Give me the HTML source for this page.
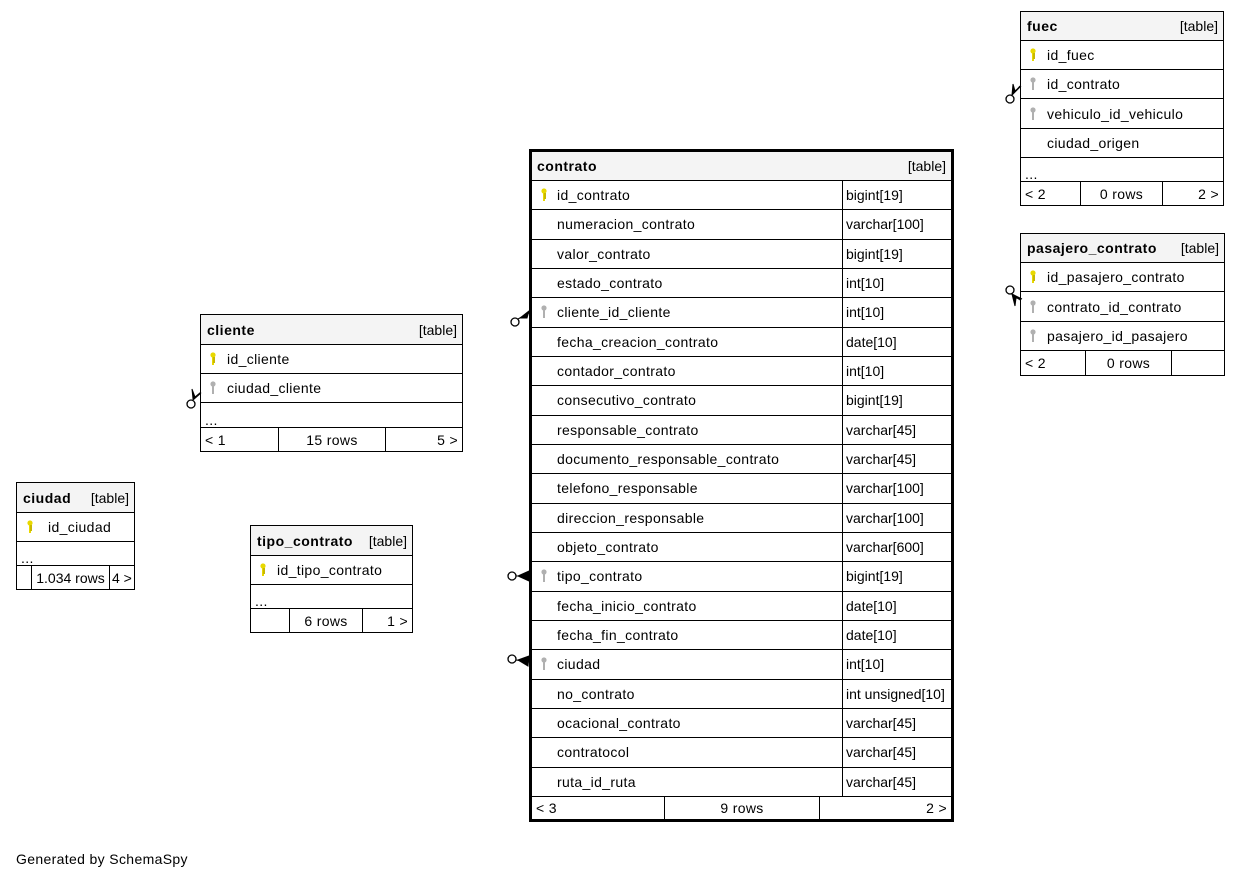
<!DOCTYPE html>
<html><head><meta charset="utf-8"><style>
*{box-sizing:border-box;margin:0;padding:0}
body{width:1240px;height:878px;background:#fff;position:relative;overflow:hidden;font:14px "Liberation Sans",sans-serif;letter-spacing:0.35px;color:#000}
.t{position:absolute;border:1px solid #000;background:#fff}
.t>div{border-top:1px solid #000;position:relative;white-space:nowrap}
.t>div:first-child{border-top:none}
.h{background:#f4f4f4;display:flex;justify-content:space-between;align-items:center;padding:0 5px 0 6px}
.h b{font-weight:bold;letter-spacing:0.5px}
.h span{letter-spacing:0}
.r{display:flex;align-items:center}
.r .n{flex:none;padding-left:25px;position:relative;height:100%;display:flex;align-items:center}
.r .ty{flex:1;border-left:1px solid #000;height:100%;display:flex;align-items:center;padding-left:3px;letter-spacing:0}
.k{position:absolute;left:8px;top:50%;margin-top:-8px;width:8px;height:16px}
.d{padding-left:4px;line-height:14px;display:flex;align-items:flex-end}
.f{display:flex}
.f span{height:100%;display:flex;align-items:center;border-left:1px solid #000}
.f span:first-child{border-left:none}
</style></head><body>
<svg width="0" height="0" style="position:absolute"><defs>
<g id="pk"><circle cx="4" cy="4" r="2.6" fill="#e8d800"/><rect x="3" y="5" width="2" height="9" fill="#e8d800"/><rect x="4" y="6" width="2" height="6" fill="#c8b800"/></g>
<g id="fk"><circle cx="4" cy="4" r="2.6" fill="#b0b0b0"/><rect x="3" y="5" width="2" height="9" fill="#b0b0b0"/></g>
</defs></svg>

<!-- contrato -->
<div class="t" style="left:529px;top:149px;width:425px;height:673px;border-width:3px">
<div class="h" style="height:28px;padding-left:5px"><b>contrato</b><span>[table]</span></div>
<div class="r" style="height:29.33px"><div class="n" style="width:310px"><svg class="k" viewBox="0 0 8 16" style="left:8px"><use href="#pk"/></svg>id_contrato</div><div class="ty">bigint[19]</div></div>
<div class="r" style="height:29.33px"><div class="n" style="width:310px">numeracion_contrato</div><div class="ty">varchar[100]</div></div>
<div class="r" style="height:29.33px"><div class="n" style="width:310px">valor_contrato</div><div class="ty">bigint[19]</div></div>
<div class="r" style="height:29.33px"><div class="n" style="width:310px">estado_contrato</div><div class="ty">int[10]</div></div>
<div class="r" style="height:29.33px"><div class="n" style="width:310px"><svg class="k" viewBox="0 0 8 16" style="left:8px"><use href="#fk"/></svg>cliente_id_cliente</div><div class="ty">int[10]</div></div>
<div class="r" style="height:29.33px"><div class="n" style="width:310px">fecha_creacion_contrato</div><div class="ty">date[10]</div></div>
<div class="r" style="height:29.33px"><div class="n" style="width:310px">contador_contrato</div><div class="ty">int[10]</div></div>
<div class="r" style="height:29.33px"><div class="n" style="width:310px">consecutivo_contrato</div><div class="ty">bigint[19]</div></div>
<div class="r" style="height:29.33px"><div class="n" style="width:310px">responsable_contrato</div><div class="ty">varchar[45]</div></div>
<div class="r" style="height:29.33px"><div class="n" style="width:310px">documento_responsable_contrato</div><div class="ty">varchar[45]</div></div>
<div class="r" style="height:29.33px"><div class="n" style="width:310px">telefono_responsable</div><div class="ty">varchar[100]</div></div>
<div class="r" style="height:29.33px"><div class="n" style="width:310px">direccion_responsable</div><div class="ty">varchar[100]</div></div>
<div class="r" style="height:29.33px"><div class="n" style="width:310px">objeto_contrato</div><div class="ty">varchar[600]</div></div>
<div class="r" style="height:29.33px"><div class="n" style="width:310px"><svg class="k" viewBox="0 0 8 16" style="left:8px"><use href="#fk"/></svg>tipo_contrato</div><div class="ty">bigint[19]</div></div>
<div class="r" style="height:29.33px"><div class="n" style="width:310px">fecha_inicio_contrato</div><div class="ty">date[10]</div></div>
<div class="r" style="height:29.33px"><div class="n" style="width:310px">fecha_fin_contrato</div><div class="ty">date[10]</div></div>
<div class="r" style="height:29.33px"><div class="n" style="width:310px"><svg class="k" viewBox="0 0 8 16" style="left:8px"><use href="#fk"/></svg>ciudad</div><div class="ty">int[10]</div></div>
<div class="r" style="height:29.33px"><div class="n" style="width:310px">no_contrato</div><div class="ty">int unsigned[10]</div></div>
<div class="r" style="height:29.33px"><div class="n" style="width:310px">ocacional_contrato</div><div class="ty">varchar[45]</div></div>
<div class="r" style="height:29.33px"><div class="n" style="width:310px">contratocol</div><div class="ty">varchar[45]</div></div>
<div class="r" style="height:29.33px"><div class="n" style="width:310px">ruta_id_ruta</div><div class="ty">varchar[45]</div></div>
<div class="f" style="height:23px"><span style="width:132px;padding-left:4px">&lt; 3</span><span style="width:155px;justify-content:center">9 rows</span><span style="flex:1;justify-content:flex-end;padding-right:4px">2 &gt;</span></div>
</div>

<!-- fuec -->
<div class="t" style="left:1020px;top:11px;width:204px;height:195px">
<div class="h" style="height:28px"><b>fuec</b><span>[table]</span></div>
<div class="r" style="height:29px"><div class="n" style="padding-left:26px"><svg class="k" viewBox="0 0 8 16"><use href="#pk"/></svg>id_fuec</div></div>
<div class="r" style="height:29px"><div class="n" style="padding-left:26px"><svg class="k" viewBox="0 0 8 16"><use href="#fk"/></svg>id_contrato</div></div>
<div class="r" style="height:30px"><div class="n" style="padding-left:26px"><svg class="k" viewBox="0 0 8 16"><use href="#fk"/></svg>vehiculo_id_vehiculo</div></div>
<div class="r" style="height:29px"><div class="n" style="padding-left:26px">ciudad_origen</div></div>
<div class="d" style="height:24px">...</div>
<div class="f" style="height:24px"><span style="width:59px;padding-left:4px">&lt; 2</span><span style="width:82px;justify-content:center">0 rows</span><span style="flex:1;justify-content:flex-end;padding-right:4px">2 &gt;</span></div>
</div>

<!-- pasajero_contrato -->
<div class="t" style="left:1020px;top:233px;width:205px;height:143px">
<div class="h" style="height:28px"><b>pasajero_contrato</b><span>[table]</span></div>
<div class="r" style="height:29px"><div class="n" style="padding-left:26px"><svg class="k" viewBox="0 0 8 16"><use href="#pk"/></svg>id_pasajero_contrato</div></div>
<div class="r" style="height:30px"><div class="n" style="padding-left:26px"><svg class="k" viewBox="0 0 8 16"><use href="#fk"/></svg>contrato_id_contrato</div></div>
<div class="r" style="height:29px"><div class="n" style="padding-left:26px"><svg class="k" viewBox="0 0 8 16"><use href="#fk"/></svg>pasajero_id_pasajero</div></div>
<div class="f" style="height:25px"><span style="width:64px;padding-left:4px">&lt; 2</span><span style="width:86px;justify-content:center">0 rows</span><span style="flex:1"></span></div>
</div>

<!-- cliente -->
<div class="t" style="left:200px;top:314px;width:263px;height:138px">
<div class="h" style="height:29px"><b>cliente</b><span>[table]</span></div>
<div class="r" style="height:29px"><div class="n" style="padding-left:26px"><svg class="k" viewBox="0 0 8 16"><use href="#pk"/></svg>id_cliente</div></div>
<div class="r" style="height:29px"><div class="n" style="padding-left:26px"><svg class="k" viewBox="0 0 8 16"><use href="#fk"/></svg>ciudad_cliente</div></div>
<div class="d" style="height:25px">...</div>
<div class="f" style="height:24px"><span style="width:77px;padding-left:4px">&lt; 1</span><span style="width:107px;justify-content:center">15 rows</span><span style="flex:1;justify-content:flex-end;padding-right:4px">5 &gt;</span></div>
</div>

<!-- ciudad -->
<div class="t" style="left:16px;top:482px;width:119px;height:108px">
<div class="h" style="height:29px"><b>ciudad</b><span>[table]</span></div>
<div class="r" style="height:29px"><div class="n" style="padding-left:31px"><svg class="k" viewBox="0 0 8 16" style="left:9px"><use href="#pk"/></svg>id_ciudad</div></div>
<div class="d" style="height:24px">...</div>
<div class="f" style="height:24px;letter-spacing:0"><span style="width:14px"></span><span style="width:78px;justify-content:center">1.034 rows</span><span style="flex:1;padding-left:2px">4 &gt;</span></div>
</div>

<!-- tipo_contrato -->
<div class="t" style="left:250px;top:525px;width:163px;height:108px">
<div class="h" style="height:29px"><b>tipo_contrato</b><span>[table]</span></div>
<div class="r" style="height:29px"><div class="n" style="padding-left:26px"><svg class="k" viewBox="0 0 8 16"><use href="#pk"/></svg>id_tipo_contrato</div></div>
<div class="d" style="height:24px">...</div>
<div class="f" style="height:24px"><span style="width:38px"></span><span style="width:73px;justify-content:center">6 rows</span><span style="flex:1;justify-content:flex-end;padding-right:4px">1 &gt;</span></div>
</div>

<!-- markers -->
<svg style="position:absolute;left:0;top:0" width="1240" height="878">
<g fill="#fff" stroke="#000" stroke-width="1.3">
<circle cx="515" cy="322" r="4"/>
<circle cx="512" cy="576" r="4"/>
<circle cx="512" cy="659" r="4"/>
<circle cx="191" cy="404" r="4"/>
<circle cx="1010" cy="99" r="4"/>
<circle cx="1010" cy="290" r="4"/>
</g>
<g fill="#000" stroke="#000" stroke-width="1">
<line x1="518" y1="319" x2="529" y2="313"/><path d="M520 318 L529 311 L527 318 Z"/>
<line x1="516" y1="576" x2="529" y2="576"/><path d="M518 576 L529 571 L529 581 Z"/>
<line x1="516" y1="660" x2="529" y2="662"/><path d="M518 660 L529 656 L528 666 Z"/>
<line x1="193" y1="400" x2="201" y2="393"/><path d="M193 399 L192 389 L195 397 L201 392 Z"/>
<line x1="1012" y1="95" x2="1020" y2="86"/><path d="M1012 95 L1013 84 L1015 91 L1021 86 Z"/>
<line x1="1012" y1="294" x2="1020" y2="300"/><path d="M1012 294 L1022 299 L1016 298 L1015 306 Z"/>
</g>
</svg>

<div style="position:absolute;left:16px;top:851px">Generated by SchemaSpy</div>
</body></html>
